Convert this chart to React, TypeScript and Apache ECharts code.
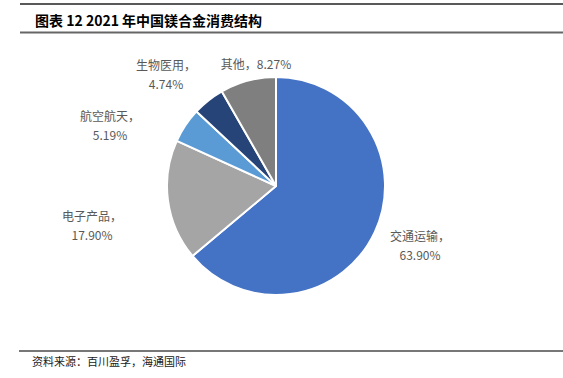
import React, { useEffect, useRef } from "react";
import * as echarts from "echarts";

const categories = ["交通运输", "电子产品", "航空航天", "生物医用", "其他"];
const shares = [63.9, 17.9, 5.19, 4.74, 8.27];
const colors = ["#4472C4", "#A5A5A5", "#5B9BD5", "#264478", "#7F7F7F"];
const titleText = "图表 12 2021 年中国镁合金消费结构";
const sourceText = "资料来源：百川盈孚，海通国际";
// label block centres (layout, not data)
const labelCentres: [number, number][] = [
  [420, 245],
  [92, 225],
  [110, 125],
  [166, 74],
  [256, 63],
];

export default function App() {
  const ref = useRef<HTMLDivElement>(null);
  useEffect(() => {
    document.body.style.margin = "0";
    const chart = echarts.init(ref.current!, null, { renderer: "svg" });
    const font = "'Noto Sans CJK SC', sans-serif";
    chart.setOption({
      animation: false,
      backgroundColor: "#ffffff",
      title: {
        text: titleText,
        left: 30,
        top: 8,
        textStyle: { fontSize: 14, fontWeight: "bold", color: "#000", fontFamily: font },
      },
      graphic: [
        { type: "line", shape: { x1: 20, y1: 4, x2: 563, y2: 4 }, style: { stroke: "#222", lineWidth: 1.5 } },
        { type: "line", shape: { x1: 20, y1: 32.5, x2: 563, y2: 32.5 }, style: { stroke: "#666", lineWidth: 2 } },
        { type: "line", shape: { x1: 19, y1: 351, x2: 563, y2: 351 }, style: { stroke: "#777", lineWidth: 2 } },
        {
          type: "text",
          left: 32,
          top: 355,
          style: { text: sourceText, fontSize: 11, fill: "#222", fontFamily: font },
        },
      ],
      series: [
        {
          type: "pie",
          center: [276, 186],
          radius: 109,
          startAngle: 90,
          clockwise: true,
          avoidLabelOverlap: false,
          itemStyle: { borderColor: "#fff", borderWidth: 2 },
          label: {
            show: true,
            position: "outside",
            color: "#595959",
            fontSize: 12,
            fontFamily: font,
            lineHeight: 19,
            overflow: "none",
            formatter: (p: any) => {
              const v = p.value.toFixed(2) + "%";
              return p.name === "其他" ? `${p.name}，${v}` : `${p.name}，\n${v}`;
            },
          },
          labelLine: { show: false, length: 15, length2: 0 },
          labelLayout: (params: any) => {
            const c = labelCentres[params.dataIndex];
            return { x: c[0], y: c[1], align: "center", verticalAlign: "middle", hideOverlap: false, moveOverlap: null };
          },
          data: categories.map((c, i) => ({ name: c, value: shares[i], itemStyle: { color: colors[i] } })),
        },
      ],
    });
    return () => chart.dispose();
  }, []);
  return <div ref={ref} style={{ width: 563, height: 378 }} />;
}
